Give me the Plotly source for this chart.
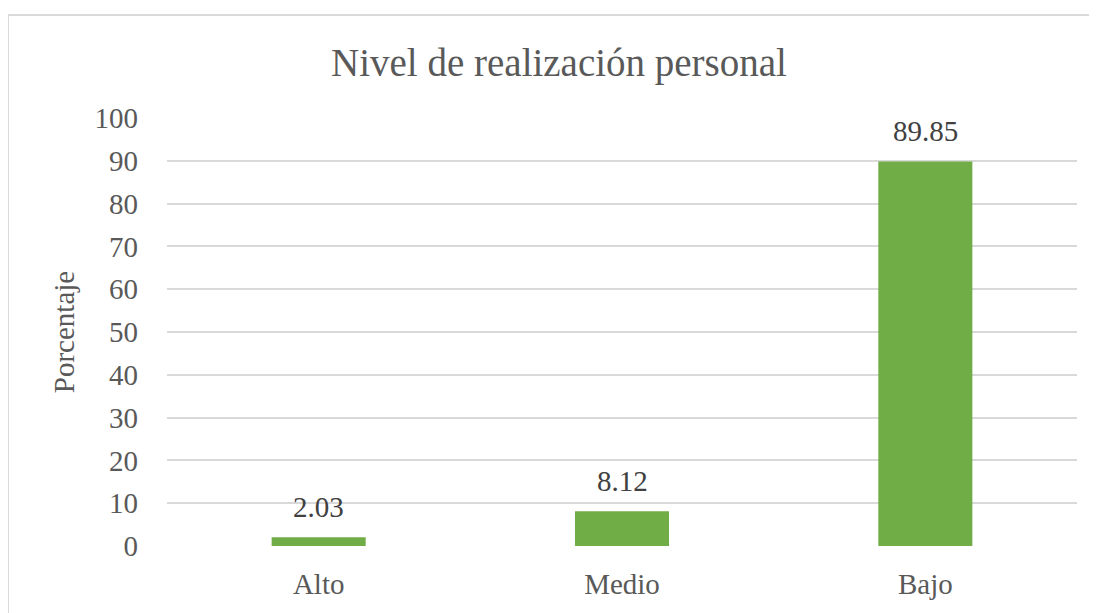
import plotly.graph_objects as go

# Chart data
categorias = ["Alto", "Medio", "Bajo"]
porcentajes = [2.03, 8.12, 89.85]
ticks_y = list(range(0, 101, 10))

serif = "Liberation Serif, Times New Roman, serif"

fig = go.Figure()

fig.add_trace(go.Bar(
    x=categorias, y=porcentajes,
    marker=dict(color="#70AD47", line=dict(width=0)),
    width=0.31,
    showlegend=False,
))

# Data labels above each bar
for cat, val in zip(categorias, porcentajes):
    fig.add_annotation(
        x=cat, y=val, text=f"{val:.2f}",
        showarrow=False, yanchor="bottom", yshift=12,
        font=dict(family=serif, size=29, color="#404040"),
    )

# Outer chart frame (light grey), cut off on the right and bottom like the original
fig.add_shape(
    type="rect", xref="paper", yref="paper",
    x0=-0.1747, x1=1.05, y0=-0.3, y1=1.2407,
    line=dict(color="#D9D9D9", width=2), fillcolor="rgba(0,0,0,0)",
    layer="below",
)

# page body has an 8px margin, so the figure is a bit smaller than the window
fig.update_layout(
    width=1089, height=605,
    margin=dict(l=159, r=20, t=110, b=67),
    paper_bgcolor="white", plot_bgcolor="white",
    title=dict(
        text="Nivel de realización personal",
        x=551 / 1089, xref="container", xanchor="center",
        y=1 - 54 / 605, yref="container", yanchor="middle",
        font=dict(family=serif, size=39, color="#595959"),
    ),
    font=dict(family=serif, color="#595959"),
    bargap=0.69,
)

fig.update_yaxes(
    range=[0, 100], tickvals=ticks_y,
    showgrid=True, gridcolor="#D9D9D9", gridwidth=1.5,
    zeroline=False, showline=False,
    ticklabelstandoff=28,
    tickfont=dict(family=serif, size=29, color="#595959"),
    title=dict(text="Porcentaje", standoff=11,
               font=dict(family=serif, size=29, color="#595959")),
)
fig.update_xaxes(
    showgrid=False, showline=False, zeroline=False,
    ticklabelstandoff=18,
    tickfont=dict(family=serif, size=29, color="#595959"),
)

fig.write_html("out.html")
